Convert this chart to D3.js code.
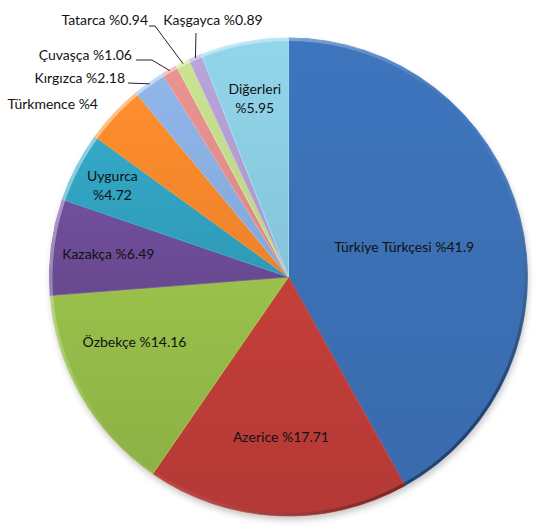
<!DOCTYPE html>
<html><head><meta charset="utf-8">
<script src="https://cdn.jsdelivr.net/npm/d3@7"></script>
<style>html,body{margin:0;padding:0;background:#fff;}svg{display:block;}</style>
</head><body>
<svg id="chart" width="559" height="528"></svg>
<script>
// ---- data ----
const categories = ["Türkiye Türkçesi","Azerice","Özbekçe","Kazakça","Uygurca","Türkmence","Kırgızca","Çuvaşça","Tatarca","Kaşgayca","Diğerleri"];
const values = [41.9, 17.71, 14.16, 6.49, 4.72, 4, 2.18, 1.06, 0.94, 0.89, 5.95];
const valueLabels = ["%41.9","%17.71","%14.16","%6.49","%4.72","%4","%2.18","%1.06","%0.94","%0.89","%5.95"];
const colors = ["#3b70b5","#bc3c38","#93b948","#6c4c95","#31a1bf","#f5882c","#8aaee0","#e08e8c","#c1da8c","#b19ecf","#8ccde1"];

// ---- layout ----
const W = 559, H = 528;
const cx = 288.5, cy = 277, R = 239;
const svg = d3.select("#chart");
const defs = svg.append("defs");

const shadow = defs.append("filter").attr("id","sh").attr("x","-20%").attr("y","-20%").attr("width","140%").attr("height","140%");
shadow.append("feGaussianBlur").attr("stdDeviation",3);

colors.forEach((c,i)=>{
  const g = defs.append("linearGradient").attr("id","g"+i).attr("x1",0).attr("y1",0).attr("x2",0).attr("y2",1);
  g.append("stop").attr("offset","0%").attr("stop-color", d3.color(c).brighter(0.12));
  g.append("stop").attr("offset","100%").attr("stop-color", d3.color(c).darker(0.12));
});
const rimG = defs.append("linearGradient").attr("id","rim").attr("gradientUnits","userSpaceOnUse")
  .attr("x1",-R*0.7).attr("y1",-R*0.7).attr("x2",R*0.7).attr("y2",R*0.7);
rimG.append("stop").attr("offset","0%").attr("stop-color","#fff").attr("stop-opacity",0.45);
rimG.append("stop").attr("offset","50%").attr("stop-color","#fff").attr("stop-opacity",0.0);
rimG.append("stop").attr("offset","100%").attr("stop-color","#000").attr("stop-opacity",0.4);

const data = categories.map((c,i)=>({name:c, value:values[i], label:valueLabels[i], i}));
const pie = d3.pie().sort(null).value(d=>d.value).startAngle(0).endAngle(2*Math.PI);
const arcs = pie(data);
const arc = d3.arc().innerRadius(0).outerRadius(R);

const root = svg.append("g").attr("transform",`translate(${cx},${cy})`);
root.append("circle").attr("cx",1).attr("cy",4).attr("r",R).attr("fill","rgba(0,0,0,0.22)").attr("filter","url(#sh)");

root.selectAll("path.slice").data(arcs).enter().append("path")
  .attr("class","slice")
  .attr("d",arc)
  .attr("fill",d=>`url(#g${d.index})`)
  .attr("stroke",d=>d3.color(colors[d.index]).brighter(0.35))
  .attr("stroke-width",0.8)
  .attr("stroke-linejoin","round");

// outer rim bevel
root.append("path")
  .attr("d", d3.arc().innerRadius(R-3).outerRadius(R).startAngle(0).endAngle(2*Math.PI)())
  .attr("fill","url(#rim)");

// ---- labels ----
const font = "Lato, 'Open Sans', sans-serif";
const fs = 14;
// inside labels: radius fraction along slice mid-angle
const inside = {0:{f:0.50, lines:1}, 1:{f:0.67, lines:1}, 2:{f:0.70, lines:1, da:0.12}, 3:{f:0.76, lines:1}, 4:{f:0.83, lines:2}, 10:{f:0.76, lines:2}};
const pt = (a, r) => [r*Math.sin(a), -r*Math.cos(a)];

arcs.forEach(d=>{
  const cfg = inside[d.index];
  if(!cfg) return;
  const mid = (d.startAngle+d.endAngle)/2 + (cfg.da||0);
  const [x,y] = pt(mid, R*cfg.f);
  const t = root.append("text").attr("x",x).attr("y",y)
    .attr("text-anchor","middle").attr("font-family",font).attr("font-size",fs).attr("fill","#111");
  if(cfg.lines===1){
    t.attr("dy","0.35em").text(d.data.name+" "+d.data.label);
  } else {
    t.append("tspan").attr("x",x).attr("dy","-0.3em").text(d.data.name);
    t.append("tspan").attr("x",x).attr("dy","1.3em").text(d.data.label);
  }
});

// outside labels (text anchor positions, leader to slice edge)
const outside = {
  5:{x:98, y:104, anchor:"end", leader:null},
  6:{x:125, y:78, anchor:"end", leader:[[128,83]]},
  7:{x:132, y:55, anchor:"end", leader:[[136,60],[152,60]]},
  8:{x:148, y:20, anchor:"end", leader:[[149,26],[155,26]]},
  9:{x:213, y:20, anchor:"middle", leader:[[196,33]]}
};
const g2 = svg.append("g");
arcs.forEach(d=>{
  const cfg = outside[d.index];
  if(!cfg) return;
  g2.append("text").attr("x",cfg.x).attr("y",cfg.y).attr("dy","0.35em")
    .attr("text-anchor",cfg.anchor).attr("font-family",font).attr("font-size",fs).attr("fill","#111")
    .text(d.data.name+" "+d.data.label);
  if(cfg.leader){
    const mid = (d.startAngle+d.endAngle)/2;
    const [ex,ey] = pt(mid, R-1);
    const pts = cfg.leader.concat([[ex+cx, ey+cy]]);
    g2.append("path").attr("d", d3.line()(pts)).attr("fill","none").attr("stroke","#222").attr("stroke-width",1);
  }
});
</script>
</body></html>
